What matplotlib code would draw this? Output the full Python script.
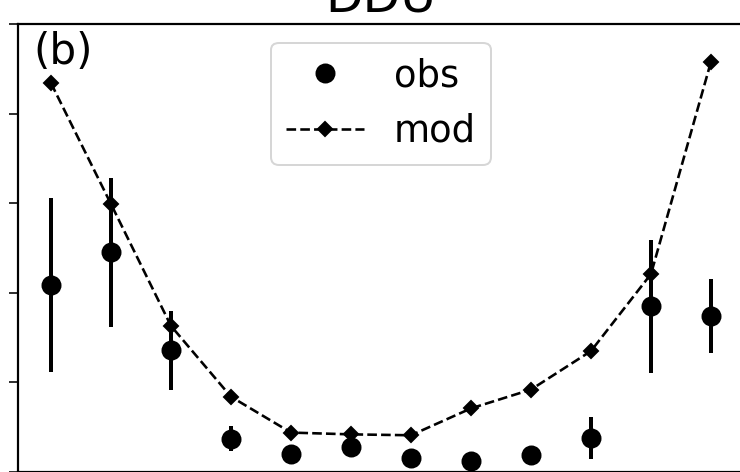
import matplotlib
matplotlib.use("Agg")
import matplotlib.pyplot as plt

# Monthly observed values with uncertainty, and model values
months = [1, 2, 3, 4, 5, 6, 7, 8, 9, 10, 11, 12]
obs = [2.09, 2.45, 1.36, 0.37, 0.20, 0.28, 0.16, 0.12, 0.19, 0.38, 1.85, 1.74]
obs_err = [0.97, 0.83, 0.44, 0.14, 0.05, 0.11, 0.03, 0.03, 0.05, 0.23, 0.74, 0.41]
mod = [4.34, 2.99, 1.63, 0.84, 0.44, 0.42, 0.41, 0.71, 0.92, 1.35, 2.21, 4.58]
y_ticks = [0, 1, 2, 3, 4, 5]

dpi = 144
fig = plt.figure(figsize=(740 / dpi, 472 / dpi), dpi=dpi)
ax = fig.add_axes([18 / 740, 0.0, 726 / 740, 448 / 472])

ax.errorbar(months, obs, yerr=obs_err, fmt="none", ecolor="k",
            elinewidth=2, capsize=0)
ax.plot(months, obs, "o", color="k", ms=9, label="obs")
ax.plot(months, mod, "--D", color="k", ms=5, lw=1.3, label="mod")

ax.set_xlim(0.45, 12.55)
ax.set_ylim(0, 5)
ax.set_yticks(y_ticks)
ax.set_xticks(months)
ax.tick_params(axis="y", length=4.7, labelleft=False)
ax.tick_params(axis="x", labelbottom=False)
for s in ax.spines.values():
    s.set_linewidth(1.1)

ax.set_title("DDU", fontsize=24.5, pad=6)
ax.text(0.021, 0.985, "(b)", transform=ax.transAxes, fontsize=21,
        ha="left", va="top")
ax.legend(loc="upper center", fontsize=18.5, handlelength=2.1)

fig.savefig("out.png", dpi=dpi)
